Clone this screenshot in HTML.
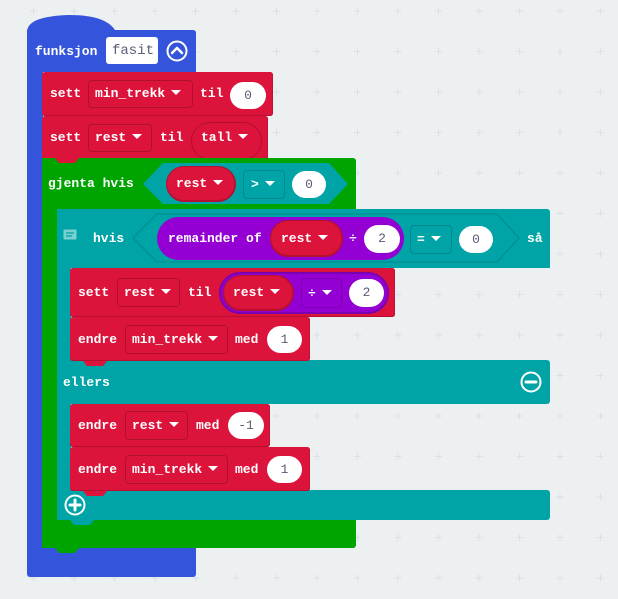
<!DOCTYPE html>
<html><head><meta charset="utf-8"><style>
html,body{margin:0;padding:0}
body{width:618px;height:599px;position:relative;overflow:hidden;background:#ecf0f1;font-family:"Liberation Mono",monospace;font-weight:bold;font-size:13px;color:#fff}
.a{position:absolute}
.t{position:absolute;line-height:16px;white-space:pre}
.r{background:#dc143c;border-radius:3px;box-shadow:inset 0 -1px 0 #b51032, inset -1px 0 0 #c01235}
.dd{position:absolute;border:1px solid #b01030;border-radius:4px;box-sizing:border-box}
.ov{position:absolute;background:#fff;border-radius:14px;color:#575e75;text-align:center;font-weight:normal;box-sizing:border-box}
.tri{display:inline-block;width:0;height:0;border-left:5px solid transparent;border-right:5px solid transparent;border-top:5px solid #fff;vertical-align:middle;margin-left:6px;position:relative;top:-1px}
</style></head><body>
<svg class="a" style="left:0;top:0" width="618" height="599">
<defs><pattern id="g" x="33.5" y="11" width="40.5" height="40.5" patternUnits="userSpaceOnUse">
<path d="M0 -3.5V3.5M-3.5 0H3.5M40.5 -3.5V3.5M37 0H44M0 37V44M-3.5 40.5H3.5M40.5 37V44M37 40.5H44" stroke="#dde1e3" stroke-width="1"/>
</pattern></defs>
<rect width="618" height="599" fill="url(#g)"/>
<path d="M27 32 Q27 16 70 15 Q105 15 115 30 L193 30 Q196 30 196 33 L196 72 L27 72 Z" fill="#3455db"/>
</svg>
<div class="a" style="top:30px;left:27px;width:16px;height:530px;background:#3455db"></div>
<div class="a" style="left:27px;top:545px;width:169px;height:32px;background:#3455db;border-radius:0 0 3px 3px"></div>
<div class="t" style="left:35px;top:44px">funksjon</div>
<div class="a" style="left:106px;top:37px;width:52px;height:27px;background:#fff;border-radius:3px"></div>
<div class="t" style="left:112px;top:43px;color:#575e75;font-weight:normal;font-size:14px">fasit</div>
<svg class="a" style="left:166px;top:40px" width="22" height="22"><circle cx="11" cy="11" r="9.5" fill="none" stroke="#fff" stroke-width="2"/><path d="M6 13 L11 8 L16 13" fill="none" stroke="#fff" stroke-width="2.5" stroke-linecap="round" stroke-linejoin="round"/></svg>

<div class="a r" style="left:42px;top:72px;width:231px;height:44px"></div>
<div class="t" style="left:50px;top:86px">sett</div>
<div class="dd" style="left:88px;top:80px;width:105px;height:28px"></div>
<div class="t" style="left:95px;top:86px">min_trekk<span class="tri"></span></div>
<div class="t" style="left:200px;top:86px">til</div>
<div class="ov" style="left:230px;top:82px;width:36px;height:27px;line-height:27px">0</div>

<div class="a r" style="left:42px;top:116px;width:226px;height:44px"></div>
<div class="t" style="left:50px;top:130px">sett</div>
<div class="dd" style="left:88px;top:124px;width:64px;height:28px"></div>
<div class="t" style="left:95px;top:130px">rest<span class="tri"></span></div>
<div class="t" style="left:160px;top:130px">til</div>
<div class="a" style="left:191px;top:122px;width:71px;height:38px;border:1px solid #b01030;border-radius:19px;box-sizing:border-box"></div>
<div class="t" style="left:201px;top:130px">tall<span class="tri"></span></div>

<div class="a" style="left:42px;top:158px;width:314px;height:51px;background:#00a400;border-radius:0 3px 0 0"></div>
<div class="a" style="left:42px;top:158px;width:15px;height:390px;background:#00a400"></div>
<div class="a" style="left:42px;top:519px;width:314px;height:29px;background:#00a400;border-radius:0 0 3px 3px"></div>
<div class="t" style="left:48px;top:176px">gjenta hvis</div>
<svg class="a" style="left:143px;top:163px" width="206" height="42"><path d="M0 21 L20 0 L186 0 L205 21 L186 41 L20 41 Z" fill="#00a4a6"/></svg>
<div class="a r" style="left:166px;top:166px;width:70px;height:36px;border-radius:18px;border:1px solid #b01030;box-sizing:border-box"></div>
<div class="t" style="left:176px;top:176px">rest<span class="tri"></span></div>
<div class="dd" style="left:243px;top:170px;width:42px;height:29px;border-color:#008a8c"></div>
<div class="t" style="left:251px;top:177px">&gt;<span class="tri"></span></div>
<div class="ov" style="left:292px;top:171px;width:34px;height:27px;line-height:27px">0</div>

<div class="a" style="left:57px;top:209px;width:493px;height:59px;background:#00a4a6;border-radius:0 3px 0 0"></div>
<div class="a" style="left:57px;top:209px;width:14px;height:311px;background:#00a4a6"></div>
<div class="a" style="left:57px;top:360px;width:493px;height:44px;background:#00a4a6;border-radius:0 3px 3px 0"></div>
<div class="a" style="left:57px;top:490px;width:493px;height:30px;background:#00a4a6;border-radius:0 3px 3px 3px"></div>
<svg class="a" style="left:63px;top:229px" width="16" height="14"><rect x="0.5" y="0.5" width="13" height="10" rx="1" fill="#7ad0d1"/><path d="M3 4H11M3 7H9" stroke="#00a4a6" stroke-width="1.2"/></svg>
<div class="t" style="left:93px;top:231px">hvis</div>
<svg class="a" style="left:132px;top:213px" width="388" height="50"><path d="M1 25 L25 1 L365 1 L387 25 L365 49 L25 49 Z" fill="#00a4a6" stroke="#008a8c" stroke-width="1"/></svg>
<div class="a" style="left:157px;top:217px;width:247px;height:43px;background:#9400d3;border-radius:22px"></div>
<div class="t" style="left:168px;top:231px">remainder of</div>
<div class="a r" style="left:270px;top:220px;width:73px;height:37px;border-radius:18px;border:1px solid #b01030;box-sizing:border-box"></div>
<div class="t" style="left:281px;top:231px">rest<span class="tri"></span></div>
<div class="t" style="left:349px;top:231px">÷</div>
<div class="ov" style="left:364px;top:225px;width:36px;height:28px;line-height:28px">2</div>
<div class="dd" style="left:410px;top:225px;width:42px;height:29px;border-color:#008a8c"></div>
<div class="t" style="left:417px;top:232px">=<span class="tri"></span></div>
<div class="ov" style="left:459px;top:226px;width:34px;height:27px;line-height:27px">0</div>
<div class="t" style="left:527px;top:231px">så</div>

<div class="a r" style="left:70px;top:268px;width:325px;height:49px"></div>
<div class="t" style="left:78px;top:285px">sett</div>
<div class="dd" style="left:117px;top:278px;width:63px;height:29px"></div>
<div class="t" style="left:124px;top:285px">rest<span class="tri"></span></div>
<div class="t" style="left:188px;top:285px">til</div>
<div class="a" style="left:219px;top:272px;width:170px;height:42px;background:#9400d3;border-radius:21px;border:2px solid #7a00b0;box-sizing:border-box"></div>
<div class="a r" style="left:223px;top:275px;width:71px;height:36px;border-radius:18px;border:1px solid #b01030;box-sizing:border-box"></div>
<div class="t" style="left:233px;top:285px">rest<span class="tri"></span></div>
<div class="dd" style="left:301px;top:278px;width:41px;height:30px;border-color:#7a00b0"></div>
<div class="t" style="left:308px;top:286px">÷<span class="tri"></span></div>
<div class="ov" style="left:349px;top:279px;width:35px;height:28px;line-height:28px">2</div>

<div class="a r" style="left:70px;top:317px;width:240px;height:44px"></div>
<div class="t" style="left:78px;top:332px">endre</div>
<div class="dd" style="left:125px;top:325px;width:103px;height:29px"></div>
<div class="t" style="left:132px;top:332px">min_trekk<span class="tri"></span></div>
<div class="t" style="left:235px;top:332px">med</div>
<div class="ov" style="left:267px;top:326px;width:35px;height:27px;line-height:27px">1</div>

<div class="t" style="left:63px;top:375px">ellers</div>
<svg class="a" style="left:520px;top:371px" width="22" height="22"><circle cx="11" cy="11" r="9.5" fill="none" stroke="#fff" stroke-width="2"/><path d="M6 11H16" stroke="#fff" stroke-width="3" stroke-linecap="round"/></svg>

<div class="a r" style="left:70px;top:404px;width:200px;height:43px"></div>
<div class="t" style="left:78px;top:418px">endre</div>
<div class="dd" style="left:125px;top:411px;width:63px;height:29px"></div>
<div class="t" style="left:132px;top:418px">rest<span class="tri"></span></div>
<div class="t" style="left:196px;top:418px">med</div>
<div class="ov" style="left:228px;top:412px;width:36px;height:27px;line-height:27px">-1</div>

<div class="a r" style="left:70px;top:447px;width:240px;height:44px"></div>
<div class="t" style="left:78px;top:462px">endre</div>
<div class="dd" style="left:125px;top:455px;width:103px;height:29px"></div>
<div class="t" style="left:132px;top:462px">min_trekk<span class="tri"></span></div>
<div class="t" style="left:235px;top:462px">med</div>
<div class="ov" style="left:267px;top:456px;width:35px;height:27px;line-height:27px">1</div>

<svg class="a" style="left:64px;top:494px" width="22" height="22"><circle cx="11" cy="11" r="9.5" fill="none" stroke="#fff" stroke-width="2"/><path d="M6 11H16M11 6V16" stroke="#fff" stroke-width="3" stroke-linecap="round"/></svg>

<svg class="a" style="left:0;top:0" width="618" height="599">
<path d="M55 116 l4 5 h16 l4 -5z" fill="#dc143c"/>
<path d="M55 158 l4 5 h16 l4 -5z" fill="#dc143c"/>
<path d="M83 317 l4 5 h16 l4 -5z" fill="#dc143c"/>
<path d="M83 361 l4 5 h16 l4 -5z" fill="#dc143c"/>
<path d="M83 447 l4 5 h16 l4 -5z" fill="#dc143c"/>
<path d="M83 491 l4 5 h16 l4 -5z" fill="#dc143c"/>
<path d="M70 520 l4 5 h16 l4 -5z" fill="#00a4a6"/>
<path d="M55 548 l4 5 h16 l4 -5z" fill="#00a400"/>
</svg>
</body></html>
